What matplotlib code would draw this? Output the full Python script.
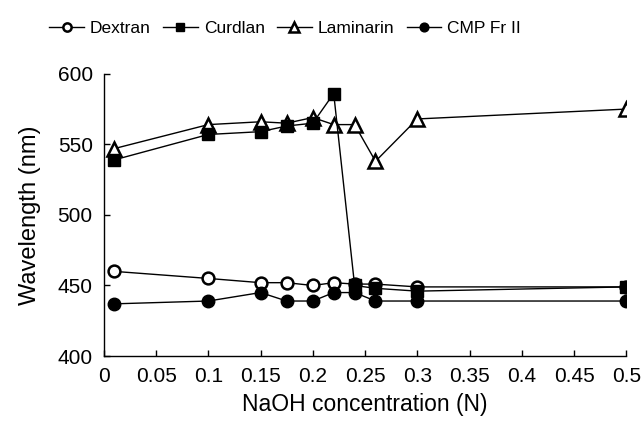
import matplotlib
matplotlib.use("Agg")
import matplotlib.pyplot as plt

plt.rcParams['font.family'] = ['Liberation Sans', 'DejaVu Sans']

naoh = [0.01, 0.1, 0.15, 0.175, 0.2, 0.22, 0.24, 0.26, 0.3, 0.5]
dextran = [460, 455, 452, 452, 450, 452, 451, 451, 449, 449]
curdlan = [539, 557, 559, 563, 565, 586, 450, 448, 446, 449]
laminarin = [547, 564, 566, 565, 569, 564, 564, 538, 568, 575]
cmp_fr2 = [437, 439, 445, 439, 439, 445, 445, 439, 439, 439]

xticks = [0, 0.05, 0.1, 0.15, 0.2, 0.25, 0.3, 0.35, 0.4, 0.45, 0.5]
xticklabels = ["0", "0.05", "0.1", "0.15", "0.2", "0.25", "0.3", "0.35", "0.4", "0.45", "0.5"]
yticks = [400, 450, 500, 550, 600]

fig = plt.figure(figsize=(6.41, 4.29), dpi=100)
ax = fig.add_axes([0.162, 0.170, 0.815, 0.658])

lw = 1.0
ax.plot(naoh, dextran, '-', color='black', lw=lw, marker='o', ms=8.5,
        mfc='white', mec='black', mew=1.8, label='Dextran', zorder=3)
ax.plot(naoh, curdlan, '-', color='black', lw=lw, marker='s', ms=9,
        mfc='black', mec='black', label='Curdlan', zorder=4)
ax.plot(naoh, laminarin, '-', color='black', lw=lw, marker='^', ms=10,
        mfc='white', mec='black', mew=1.8, label='Laminarin', zorder=3)
ax.plot(naoh, cmp_fr2, '-', color='black', lw=lw, marker='o', ms=9,
        mfc='black', mec='black', label='CMP Fr II', zorder=4)

ax.set_xlim(0, 0.5)
ax.set_ylim(400, 600)
ax.set_xticks(xticks)
ax.set_xticklabels(xticklabels)
ax.set_yticks(yticks)
ax.tick_params(direction='in', length=4, width=1, labelsize=15, pad=8)
for s in ['top', 'right']:
    ax.spines[s].set_visible(False)
for s in ['left', 'bottom']:
    ax.spines[s].set_linewidth(1.0)

ax.set_xlabel('NaOH concentration (N)', fontsize=16.5, labelpad=5)
ax.set_ylabel('Wavelength (nm)', fontsize=17, labelpad=12)

leg = fig.legend(loc='center', bbox_to_anchor=(0.445, 0.933), ncol=4, frameon=False,
                 fontsize=12.5, handlelength=2.0, handletextpad=0.35, columnspacing=0.7,
                 markerscale=0.7)

fig.savefig('out.png', dpi=100)
